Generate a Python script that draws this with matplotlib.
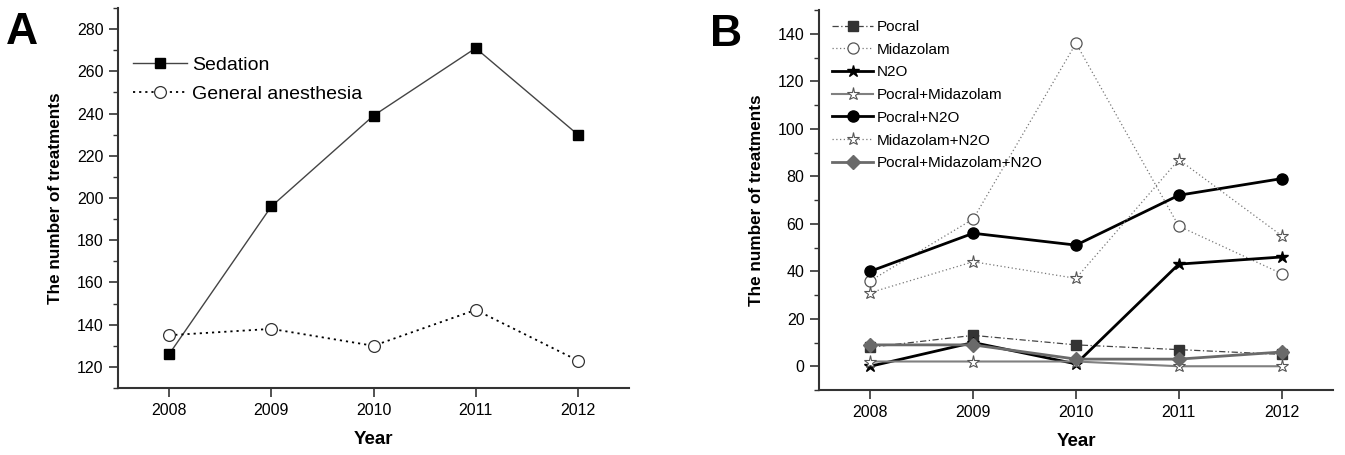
import matplotlib
matplotlib.use('Agg')
import matplotlib.pyplot as plt
from matplotlib.ticker import MultipleLocator

plt.rcParams['font.family'] = ['Liberation Sans', 'DejaVu Sans']

years = [2008, 2009, 2010, 2011, 2012]

# panel A
sedation = [126, 196, 239, 271, 230]
general_anesthesia = [135, 138, 130, 147, 123]

# panel B
pocral = [8, 13, 9, 7, 5]
midazolam = [36, 62, 136, 59, 39]
n2o = [0, 10, 1, 43, 46]
pocral_midazolam = [2, 2, 2, 0, 0]
pocral_n2o = [40, 56, 51, 72, 79]
midazolam_n2o = [31, 44, 37, 87, 55]
pocral_midazolam_n2o = [9, 9, 3, 3, 6]

W, H = 1345, 455
fig = plt.figure(figsize=(W / 100, H / 100), dpi=100)

spine_col = '#333333'


def style_axes(ax):
    for s in ['top', 'right']:
        ax.spines[s].set_visible(False)
    for s in ['left', 'bottom']:
        ax.spines[s].set_color(spine_col)
        ax.spines[s].set_linewidth(1.5)
    ax.tick_params(which='major', direction='out', length=6.5, width=1.2,
                   color=spine_col, labelsize=11.5, pad=4)
    ax.tick_params(which='minor', direction='out', length=3.5, width=1.0,
                   color=spine_col)
    ax.tick_params(axis='x', which='minor', bottom=False)
    ax.set_xlim(2007.5, 2012.5)
    ax.set_xticks(years)
    ax.set_xlabel('Year', fontsize=13.5, fontweight='bold', labelpad=10)
    ax.set_ylabel('The number of treatments', fontsize=12.3,
                  fontweight='bold', labelpad=10)


# ---- A
axA = fig.add_axes([118 / W, 1 - 388 / H, 511 / W, 380 / H])
style_axes(axA)
axA.plot(years, sedation, color='#444444', lw=1.0, marker='s', ms=6.5,
         mfc='black', mec='black', label='Sedation')
axA.plot(years, general_anesthesia, color='black', lw=1.3,
         linestyle=(0, (1.2, 2.2)), marker='o', ms=8.5, mfc='white',
         mec='#333333', mew=0.9, label='General anesthesia')
axA.set_ylim(110, 290)
axA.set_yticks(range(120, 281, 20))
axA.yaxis.set_minor_locator(MultipleLocator(10))
axA.legend(loc='upper left', bbox_to_anchor=(133 / W, 1 - 56 / H),
           bbox_transform=fig.transFigure, frameon=False, fontsize=14,
           handlelength=2.8, handletextpad=0.26, labelspacing=0.62,
           borderpad=0, borderaxespad=0)

# ---- B
axB = fig.add_axes([819 / W, 1 - 390 / H, 514 / W, 380 / H])
style_axes(axB)
axB.plot(years, pocral, color='#444444', lw=0.9, linestyle=(0, (5, 2, 1, 2)),
         marker='s', ms=6.5, mfc='#333333', mec='#333333', label='Pocral')
axB.plot(years, midazolam, color='#777777', lw=0.9, linestyle=(0, (1, 2)),
         marker='o', ms=8, mfc='white', mec='#555555', mew=0.9,
         label='Midazolam')
axB.plot(years, n2o, color='black', lw=2.0, marker='*', ms=9,
         mfc='black', mec='black', label='N2O')
axB.plot(years, pocral_midazolam, color='#808080', lw=1.5, marker='*',
         ms=9.5, mfc='white', mec='#555555', mew=0.8,
         label='Pocral+Midazolam')
axB.plot(years, pocral_n2o, color='black', lw=2.0, marker='o', ms=8,
         mfc='black', mec='black', label='Pocral+N2O')
axB.plot(years, midazolam_n2o, color='#777777', lw=0.9, linestyle=(0, (1, 2)),
         marker='*', ms=9.5, mfc='white', mec='#555555', mew=0.8,
         label='Midazolam+N2O')
axB.plot(years, pocral_midazolam_n2o, color='#6a6a6a', lw=2.0, marker='D',
         ms=7, mfc='#6a6a6a', mec='#6a6a6a', label='Pocral+Midazolam+N2O')
axB.set_ylim(-10, 150)
axB.set_yticks(range(0, 141, 20))
axB.yaxis.set_minor_locator(MultipleLocator(10))
axB.legend(loc='upper left', bbox_to_anchor=(832 / W, 1 - 20 / H),
           bbox_transform=fig.transFigure, frameon=False, fontsize=11,
           handlelength=2.7, handletextpad=0.26, labelspacing=0.57,
           borderpad=0, borderaxespad=0)

# panel letters
fig.text(6 / W, 1 - 44 / H, 'A', fontsize=32, fontweight='bold')
fig.text(710 / W, 1 - 46 / H, 'B', fontsize=32, fontweight='bold')

fig.savefig('out.png', dpi=100)
